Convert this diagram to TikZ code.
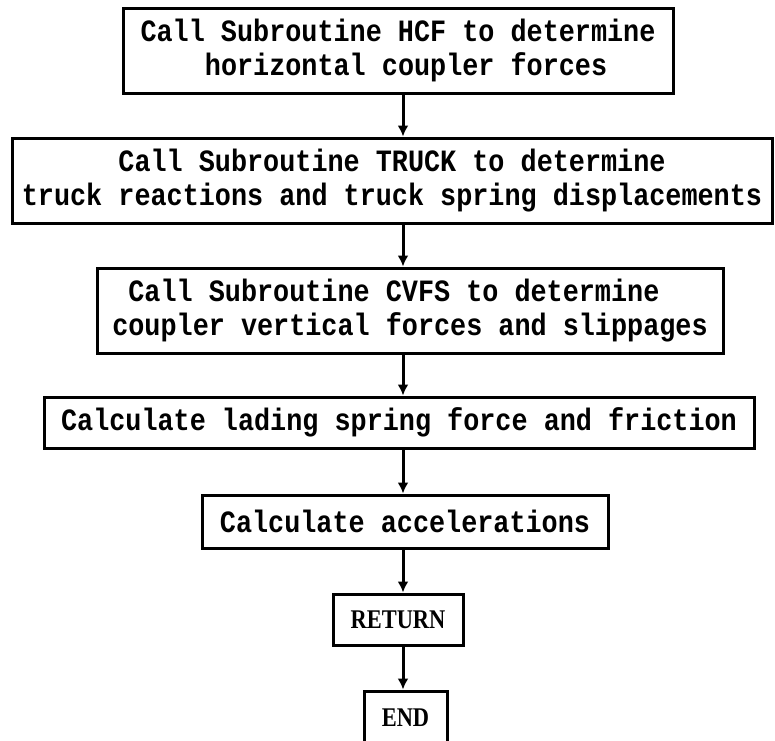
\documentclass[tikz,border=0pt]{standalone}
\usepackage{fontspec}
\usetikzlibrary{arrows.meta}
\newfontfamily\boxmono[FakeStretch=0.865]{Liberation Mono}
\newfontfamily\boxserif[FakeStretch=0.83]{Liberation Serif}
\newcommand\chind[1]{\hspace*{#1\dimexpr 16.1pt\relax}}
\begin{document}
\begin{tikzpicture}[x=1pt,y=-1pt,
  procbox/.style={draw=black,line width=3pt,inner sep=0pt,
    font=\boxmono\bfseries\fontsize{31}{34}\selectfont},
  termbox/.style={draw=black,line width=3pt,inner sep=0pt,align=center,
    font=\boxserif\bfseries\fontsize{27}{30}\selectfont},
  flow/.style={line width=3pt,-{Latex[length=11pt,width=11pt]}}]
\useasboundingbox (0,0) rectangle (775,740);
\coordinate (ax) at (403,0);
\node[procbox,align=left,minimum width=550pt,minimum height=85pt] (b1) at (398,50.5)
  {Call Subroutine HCF to determine\\\chind{4}horizontal coupler forces};
\node[procbox,align=center,minimum width=760pt,minimum height=85pt] (b2) at (392,180.5)
  {Call Subroutine TRUCK to determine\\truck reactions and truck spring displacements};
\node[procbox,align=left,minimum width=626pt,minimum height=85pt] (b3) at (410,310.5)
  {\chind{1}Call Subroutine CVFS to determine\\coupler vertical forces and slippages};
\node[procbox,align=center,minimum width=710pt,minimum height=51pt] (b4) at (399,422.5)
  {Calculate lading spring force and friction};
\node[procbox,align=center,minimum width=406pt,minimum height=53pt] (b5) at (405,521.5)
  {Calculate accelerations};
\node[termbox,minimum width=130pt,minimum height=51pt] (b6) at (398,619.5)
  {RETURN};
\node[termbox,minimum width=83pt,minimum height=54pt] (b7) at (405.5,718)
  {END};
\draw[flow] (b1.south -| ax) -- (b2.north -| ax);
\draw[flow] (b2.south -| ax) -- (b3.north -| ax);
\draw[flow] (b3.south -| ax) -- (b4.north -| ax);
\draw[flow] (b4.south -| ax) -- (b5.north -| ax);
\draw[flow] (b5.south -| ax) -- (b6.north -| ax);
\draw[flow] (b6.south -| ax) -- (b7.north -| ax);
\end{tikzpicture}
\end{document}
